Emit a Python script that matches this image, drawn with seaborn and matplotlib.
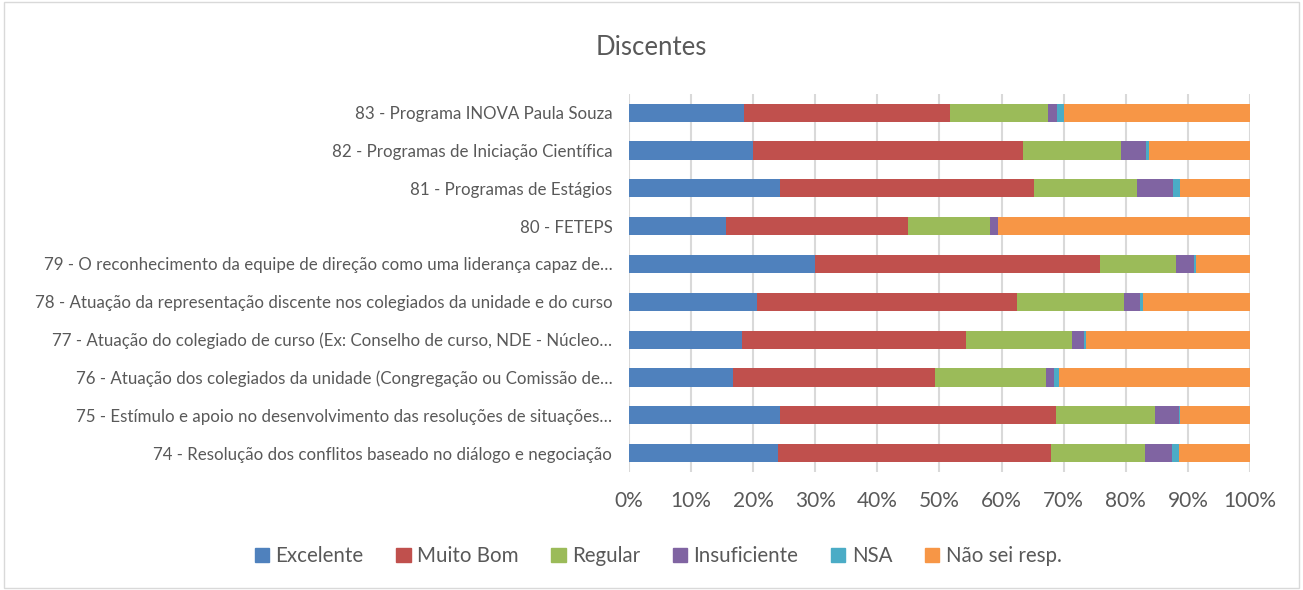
#Grafico de barras empilhadas 100% - Discentes
import pandas as pd
import matplotlib
matplotlib.use("Agg")
import matplotlib.pyplot as plt
import matplotlib.patches as mpatches
import seaborn as sns

#dados (percentuais)
perguntas = [
    "83 - Programa INOVA Paula Souza",
    "82 - Programas de Iniciação Científica",
    "81 - Programas de Estágios",
    "80 - FETEPS",
    "79 - O reconhecimento da equipe de direção como uma liderança capaz de…",
    "78 - Atuação da representação discente nos colegiados da unidade e do curso",
    "77 - Atuação do colegiado de curso (Ex: Conselho de curso, NDE - Núcleo…",
    "76 - Atuação dos colegiados da unidade (Congregação ou Comissão de…",
    "75 - Estímulo e apoio no desenvolvimento das resoluções de situações…",
    "74 - Resolução dos conflitos baseado no diálogo e negociação",
]
excelente = [18.6, 20.0, 24.4, 15.7, 29.9, 20.6, 18.2, 16.8, 24.4, 24.0]
muito_bom = [33.1, 43.4, 40.8, 29.3, 46.0, 41.9, 36.1, 32.5, 44.4, 44.0]
regular = [15.8, 15.8, 16.6, 13.1, 12.2, 17.2, 17.0, 17.9, 15.9, 15.1]
insuficiente = [1.4, 4.0, 5.8, 1.3, 2.9, 2.6, 2.0, 1.3, 3.8, 4.4]
nsa = [1.2, 0.6, 1.1, 0.0, 0.3, 0.4, 0.3, 0.7, 0.2, 1.0]
nao_sei = [29.9, 16.2, 11.3, 40.6, 8.7, 17.3, 26.4, 30.8, 11.3, 11.5]

series = ["Excelente", "Muito Bom", "Regular", "Insuficiente", "NSA", "Não sei resp."]
cores = ["#4F81BD", "#C0504D", "#9BBB59", "#8064A2", "#4BACC6", "#F79646"]

df = pd.DataFrame({
    "Pergunta": perguntas,
    "Excelente": excelente,
    "Muito Bom": muito_bom,
    "Regular": regular,
    "Insuficiente": insuficiente,
    "NSA": nsa,
    "Não sei resp.": nao_sei,
})
#normaliza para 100% e acumula
tot = df[series].sum(axis=1)
for s in series:
    df[s] = df[s] / tot * 100
acum = df[series].cumsum(axis=1)
acum["Pergunta"] = perguntas

sns.set_style("white")
plt.rcParams['font.family'] = ['Lato', 'DejaVu Sans']
texto = "#595959"

fig = plt.figure(figsize=(13.03, 5.9), dpi=100)
ax = fig.add_axes([0.4827, 0.2, 0.4766, 0.641])

#desenha do maior acumulado para o menor (sobreposicao)
for s, c in reversed(list(zip(series, cores))):
    sns.barplot(data=acum, x=s, y="Pergunta", color=c, orient="h",
                width=0.48, ax=ax, saturation=1, linewidth=0)

ax.set_xlim(0, 100)
ax.set_xticks(range(0, 101, 10))
ax.set_xticklabels([f"{v}%" for v in range(0, 101, 10)], fontsize=15, color=texto)
ax.tick_params(axis="y", labelsize=12.2, labelcolor=texto, length=0, pad=12)
ax.tick_params(axis="x", length=0, pad=14)
ax.set_xlabel("")
ax.set_ylabel("")
ax.xaxis.grid(True, color="#D9D9D9", linewidth=1.5)
ax.set_axisbelow(True)
for sp in ax.spines.values():
    sp.set_visible(False)

fig.suptitle("Discentes", y=0.94, fontsize=18.5, color=texto)

handles = [mpatches.Patch(color=c, label=s) for s, c in zip(series, cores)]
fig.legend(handles=handles, loc="center", bbox_to_anchor=(0.505, 0.057), ncol=6,
           frameon=False, fontsize=14.8, labelcolor=texto, handlelength=0.7,
           handleheight=0.7, handletextpad=0.3, columnspacing=1.6)

fig.patches.append(mpatches.Rectangle((0.003, 0.003), 0.994, 0.994, transform=fig.transFigure,
                                      fill=False, edgecolor="#D9D9D9", linewidth=1))

fig.savefig("out.png", dpi=100, facecolor="white")
